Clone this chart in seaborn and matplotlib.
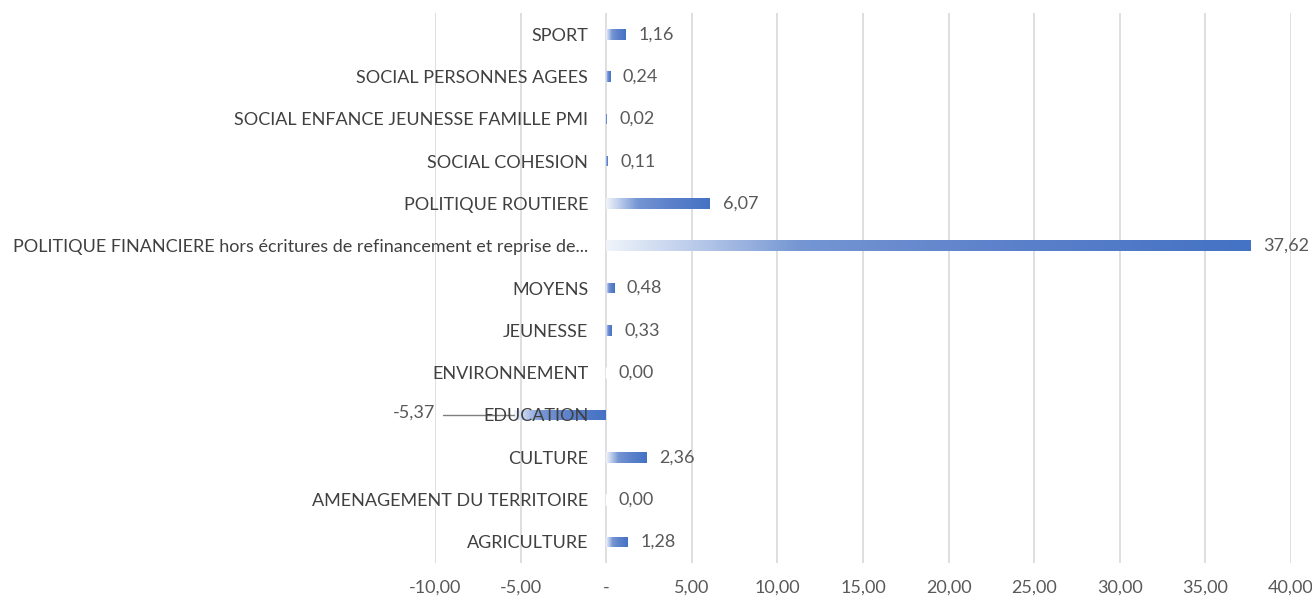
import numpy as np
import pandas as pd
import seaborn as sns
import matplotlib.pyplot as plt
from matplotlib.colors import LinearSegmentedColormap

categories = [
    'SPORT',
    'SOCIAL PERSONNES AGEES',
    'SOCIAL ENFANCE JEUNESSE FAMILLE PMI',
    'SOCIAL COHESION',
    'POLITIQUE ROUTIERE',
    'POLITIQUE FINANCIERE hors écritures de refinancement et reprise de...',
    'MOYENS',
    'JEUNESSE',
    'ENVIRONNEMENT',
    'EDUCATION',
    'CULTURE',
    'AMENAGEMENT DU TERRITOIRE',
    'AGRICULTURE',
]
values = [1.16, 0.24, 0.02, 0.11, 6.07, 37.62, 0.48, 0.33, 0.00, -5.37, 2.36, 0.00, 1.28]
xticks = [-10, -5, 0, 5, 10, 15, 20, 25, 30, 35, 40]
xtick_labels = ['-10,00', '-5,00', '-', '5,00', '10,00', '15,00', '20,00',
                '25,00', '30,00', '35,00', '40,00']

df = pd.DataFrame({'poste': categories, 'valeur': values})

sns.set_theme(style='white')
plt.rcParams['font.family'] = ['Lato', 'DejaVu Sans']
txt = '#595959'
blue = '#4472C4'

fig = plt.figure(figsize=(13.12, 6.01), dpi=100)
ax = fig.add_axes([0.3316, 0.0632, 0.6524, 0.915])
sns.barplot(data=df, y='poste', x='valeur', orient='h', color=blue,
            width=0.25, ax=ax)

# degradé clair -> bleu sur chaque barre (de gauche à droite)
cmap = LinearSegmentedColormap.from_list(
    'grad', [(0, '#F0F4FA'), (0.15, '#B4C6E8'), (0.3, '#7596D3'),
             (0.6, '#5E82CB'), (1, blue)])
grad = np.linspace(0, 1, 256).reshape(1, -1)
for p in ax.patches:
    bb = p.get_bbox()
    if bb.width == 0:
        continue
    im = ax.imshow(grad, cmap=cmap, aspect='auto', zorder=1.2,
                   extent=[bb.xmin, bb.xmax, bb.ymax, bb.ymin],
                   interpolation='bicubic')
    im.set_clip_path(p)
    p.set_facecolor('none')
    p.set_edgecolor('none')

ax.set_xlim(-10, 40)
ax.set_ylim(len(categories) - 0.5, -0.5)
ax.set_xticks(xticks)
ax.set_xticklabels(xtick_labels)
ax.set(xlabel='', ylabel='')

ax.xaxis.grid(True, color='#D9D9D9', lw=1.2)
ax.yaxis.grid(False)
ax.set_axisbelow(True)
ax.yaxis.set_zorder(2.5)
for s in ['top', 'right', 'bottom']:
    ax.spines[s].set_visible(False)
ax.spines['left'].set_position(('data', 0))
ax.spines['left'].set_visible(False)
ax.tick_params(axis='y', length=0, pad=13, labelsize=13, labelcolor='#404040')
ax.tick_params(axis='x', length=0, pad=12, labelsize=13, labelcolor=txt)

# étiquettes de données
for i, v in enumerate(values):
    lab = f'{v:.2f}'.replace('.', ',')
    if v >= 0:
        ax.annotate(lab, xy=(v, i), xytext=(9, 0), textcoords='offset points',
                    ha='left', va='center', fontsize=13, color=txt, zorder=3)
    else:
        ax.annotate(lab, xy=(-10, i), xytext=(0, 2), textcoords='offset points',
                    ha='right', va='center', fontsize=13, color=txt, zorder=3)
        ax.plot([-9.52, v], [i, i], color='#7F7F7F', lw=1, zorder=2)

plt.savefig('out.png', dpi=100)
